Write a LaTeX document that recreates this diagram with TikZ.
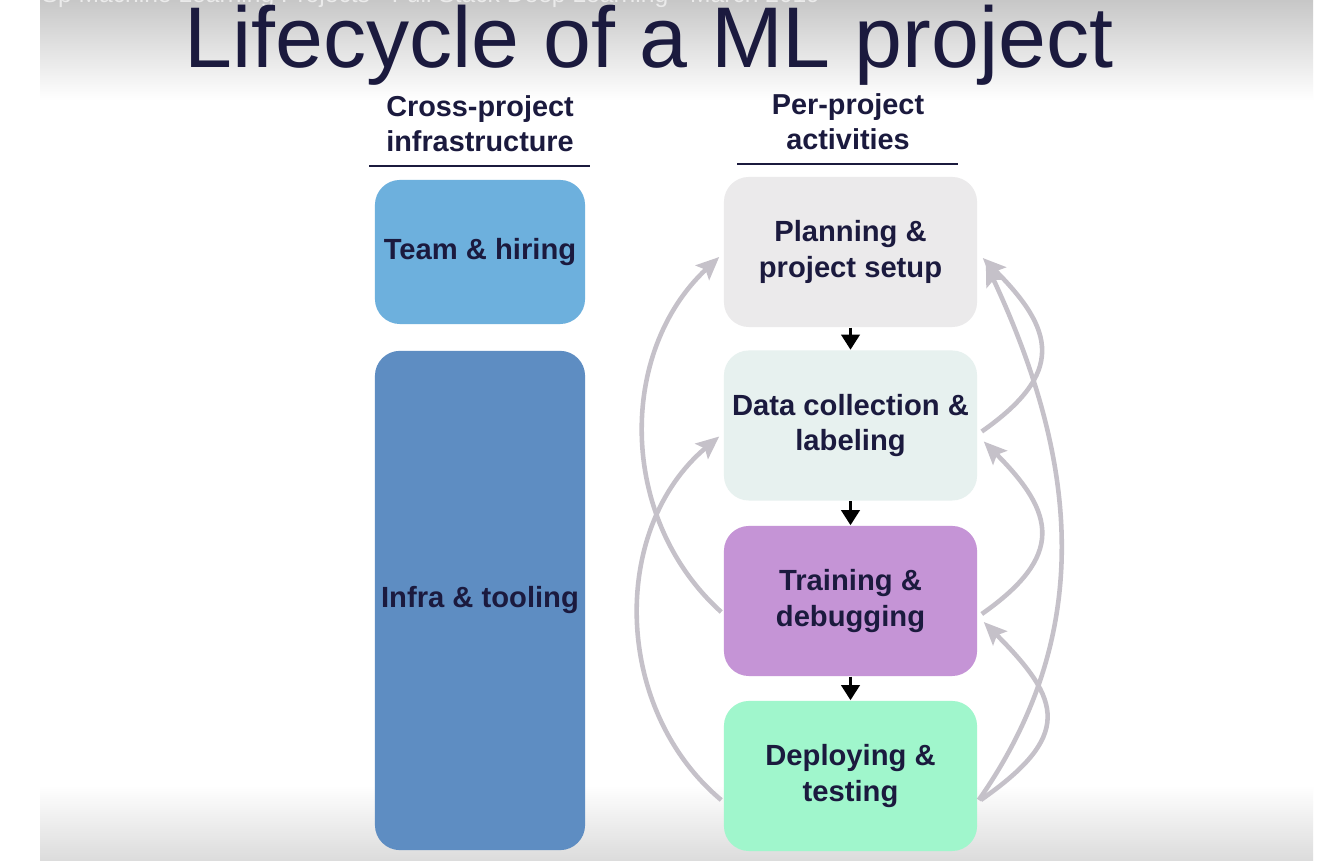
\documentclass[tikz,border=0pt]{standalone}
\usepackage{fontspec}
\setmainfont{Liberation Sans}
\usetikzlibrary{arrows.meta}
\definecolor{ink}{HTML}{1B1A3E}
\definecolor{teamblue}{HTML}{6DB0DD}
\definecolor{infrablue}{HTML}{5E8DC2}
\definecolor{planfill}{HTML}{EBEAEB}
\definecolor{datafill}{HTML}{E7F1EF}
\definecolor{trainfill}{HTML}{C594D6}
\definecolor{deployfill}{HTML}{A0F6CC}
\definecolor{loopgray}{HTML}{C5C1C9}
\begin{document}
\begin{tikzpicture}[x=0.01cm,y=0.01cm,
    box/.style={rounded corners=0.25cm, align=center, text=ink, inner sep=0pt,
        font=\fontsize{8.3}{10}\selectfont\bfseries},
    actbox/.style={box, minimum width=2.53cm, minimum height=1.50cm},
    infbox/.style={box, minimum width=2.10cm},
    head/.style={align=center, text=ink, inner sep=0pt,
        font=\fontsize{8.2}{10}\selectfont\bfseries},
    rule/.style={line width=0.8pt, draw=ink},
    flow/.style={-{Triangle[length=4.3pt,width=5.2pt]}, line width=0.9pt},
    back/.style={-{Stealth[length=6.5pt,width=5.6pt,inset=1.2pt]}, line width=1.3pt, draw=loopgray}]
    \useasboundingbox (0,0) rectangle (1336,-868);
    % Slide background with faded bands at top and bottom
    \fill[white] (0,0) rectangle (1336,-868);
    \shade[top color=black!22, bottom color=white] (40,0) rectangle (1313,-100);
    \shade[top color=white, bottom color=black!14] (40,-785) rectangle (1313,-861);
    \node[anchor=base west, inner sep=0pt, text=white!92!black,
        font=\fontsize{7}{8}\selectfont] (bar) at (41,-3)
        {Sp Machine Learning Projects - Full Stack Deep Learning - March 2019};
    % Title
    \node[anchor=base, inner sep=0pt, text=ink, font=\fontsize{24.5}{30}\selectfont]
        (title) at (649,-68) {Lifecycle of a ML project};
    % Column headers
    \node[head] (crosshead) at (480,-124) {Cross-project\\infrastructure};
    \node[head] (perhead) at (848,-122) {Per-project\\activities};
    \draw[rule] (369,-166) -- (590,-166);
    \draw[rule] (737,-164) -- (958,-164);
    % Cross-project boxes
    \node[infbox, fill=teamblue, minimum height=1.44cm] (team) at (480,-252) {Team \& hiring};
    \node[infbox, fill=infrablue, minimum height=4.99cm] (infra) at (480,-600.5) {Infra \& tooling};
    % Per-project boxes
    \node[actbox, fill=planfill] (plan) at (850.5,-252) {Planning \&\\project setup};
    \node[actbox, fill=datafill] (data) at (850.5,-425.5) {Data collection \&\\labeling};
    \node[actbox, fill=trainfill] (train) at (850.5,-601) {Training \&\\debugging};
    \node[actbox, fill=deployfill] (deploy) at (850.5,-776) {Deploying \&\\testing};
    % Forward steps
    \draw[flow] (plan) -- (data);
    \draw[flow] (data) -- (train);
    \draw[flow] (train) -- (deploy);
    % Loops back, left side
    \draw[back] ([xshift=-0.2mm,yshift=-1.1mm]train.west) to[out=138,in=223]
        ([xshift=-0.4mm,yshift=-0.5mm]plan.west);
    \draw[back] ([xshift=-0.2mm,yshift=-2.4mm]deploy.west) to[out=140,in=220]
        ([xshift=-0.4mm,yshift=-1.1mm]data.west);
    % Loops back, right side
    \draw[back] ([xshift=0.4mm,yshift=-0.6mm]data.east) to[out=35,in=-45,looseness=1.5]
        ([xshift=0.5mm,yshift=-0.6mm]plan.east);
    \draw[back] ([xshift=0.4mm,yshift=-1.3mm]train.east) to[out=35,in=-45,looseness=1.5]
        ([xshift=0.6mm,yshift=-1.6mm]data.east);
    \draw[back] ([xshift=0.3mm,yshift=-2.4mm]deploy.east) to[out=35,in=-45,looseness=1.6]
        ([xshift=0.6mm,yshift=-2.1mm]train.east);
    \draw[back] ([xshift=0.1mm,yshift=-2.4mm]deploy.east) to[out=55,in=-65]
        ([xshift=0.8mm,yshift=-1.1mm]plan.east);
\end{tikzpicture}
\end{document}
